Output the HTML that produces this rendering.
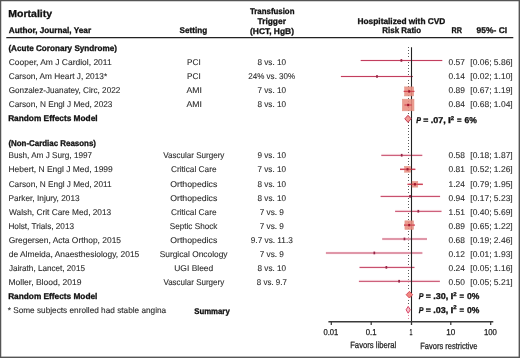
<!DOCTYPE html>
<html><head><meta charset="utf-8"><style>
html,body{margin:0;padding:0;background:#fff;}
svg{display:block;will-change:transform;}
text{font-family:"Liberation Sans",sans-serif;text-rendering:geometricPrecision;}
text.r{fill:#2b2b2b;stroke:#2b2b2b;stroke-width:0.1;}
text.a{fill:#1e1e1e;stroke:#1e1e1e;stroke-width:0.25;}
text.b{font-weight:bold;fill:#111;stroke:#111;stroke-width:0.3;}
</style></head><body>
<svg width="520" height="358" viewBox="0 0 520 358">
<rect x="0" y="0" width="520" height="358" fill="#fff"/>
<rect x="0" y="0" width="1.25" height="358" fill="#555"/>
<rect x="0" y="0" width="520" height="1.25" fill="#555"/>
<rect x="518.6" y="0" width="1.4" height="358" fill="#555"/>
<rect x="0" y="356.6" width="520" height="1.4" fill="#555"/>
<line x1="6.3" y1="37.6" x2="513.3" y2="37.6" stroke="#222" stroke-width="1.3"/>
<path d="M408 47h1v1h-1zM408 50h1v1h-1zM408 53h1v1h-1zM408 56h1v1h-1zM408 59h1v1h-1zM408 62h1v1h-1zM408 65h1v1h-1zM408 68h1v1h-1zM408 71h1v1h-1zM408 74h1v1h-1zM408 77h1v1h-1zM408 80h1v1h-1zM408 83h1v1h-1zM408 86h1v1h-1zM408 89h1v1h-1zM408 92h1v1h-1zM408 95h1v1h-1zM408 98h1v1h-1zM408 101h1v1h-1zM408 104h1v1h-1zM408 107h1v1h-1zM408 110h1v1h-1zM408 113h1v1h-1zM408 116h1v1h-1zM408 119h1v1h-1zM408 122h1v1h-1zM408 125h1v1h-1zM408 128h1v1h-1zM408 131h1v1h-1zM408 134h1v1h-1zM408 137h1v1h-1zM408 140h1v1h-1zM408 143h1v1h-1zM408 146h1v1h-1zM408 149h1v1h-1zM408 152h1v1h-1zM408 155h1v1h-1zM408 158h1v1h-1zM408 161h1v1h-1zM408 164h1v1h-1zM408 168h1v1h-1zM408 171h1v1h-1zM408 174h1v1h-1zM408 177h1v1h-1zM408 180h1v1h-1zM408 183h1v1h-1zM408 186h1v1h-1zM408 189h1v1h-1zM408 192h1v1h-1zM408 195h1v1h-1zM408 198h1v1h-1zM408 201h1v1h-1zM408 204h1v1h-1zM408 207h1v1h-1zM408 210h1v1h-1zM408 213h1v1h-1zM408 216h1v1h-1zM408 219h1v1h-1zM408 222h1v1h-1zM408 225h1v1h-1zM408 228h1v1h-1zM408 231h1v1h-1zM408 234h1v1h-1zM408 237h1v1h-1zM408 240h1v1h-1zM408 243h1v1h-1zM408 246h1v1h-1zM408 249h1v1h-1zM408 252h1v1h-1zM408 255h1v1h-1zM408 258h1v1h-1zM408 261h1v1h-1zM408 264h1v1h-1zM408 267h1v1h-1zM408 270h1v1h-1zM408 273h1v1h-1zM408 276h1v1h-1zM408 279h1v1h-1zM408 282h1v1h-1zM408 285h1v1h-1zM408 288h1v1h-1zM408 300h1v1h-1zM408 303h1v1h-1z" fill="#5a5a5a"/>
<path d="M408 315h1v1h-1zM408 318h1v1h-1z" fill="#e0849a"/>
<line x1="360.7" y1="60.5" x2="442.3" y2="60.5" stroke="#fdf0f3" stroke-width="3"/>
<line x1="340.9" y1="76.5" x2="412.9" y2="76.5" stroke="#fdf0f3" stroke-width="3"/>
<line x1="403.8" y1="91.4" x2="414.3" y2="91.4" stroke="#fdf0f3" stroke-width="3"/>
<line x1="404.5" y1="105.0" x2="411.9" y2="105.0" stroke="#fdf0f3" stroke-width="3"/>
<line x1="381.3" y1="155.3" x2="422.3" y2="155.3" stroke="#fdf0f3" stroke-width="3"/>
<line x1="400.0" y1="169.3" x2="415.3" y2="169.3" stroke="#fdf0f3" stroke-width="3"/>
<line x1="407.6" y1="184.3" x2="422.8" y2="184.3" stroke="#fdf0f3" stroke-width="3"/>
<line x1="380.6" y1="196.4" x2="440.1" y2="196.4" stroke="#fdf0f3" stroke-width="3"/>
<line x1="395.1" y1="211.3" x2="441.5" y2="211.3" stroke="#fdf0f3" stroke-width="3"/>
<line x1="404.0" y1="225.1" x2="414.7" y2="225.1" stroke="#fdf0f3" stroke-width="3"/>
<line x1="382.2" y1="239.0" x2="427.0" y2="239.0" stroke="#fdf0f3" stroke-width="3"/>
<line x1="325.9" y1="253.0" x2="422.4" y2="253.0" stroke="#fdf0f3" stroke-width="3"/>
<line x1="359.5" y1="267.4" x2="414.5" y2="267.4" stroke="#fdf0f3" stroke-width="3"/>
<line x1="358.9" y1="281.3" x2="439.9" y2="281.3" stroke="#fdf0f3" stroke-width="3"/>
<line x1="360.7" y1="60.5" x2="442.3" y2="60.5" stroke="#c23e5e" stroke-width="1"/>
<line x1="340.9" y1="76.5" x2="412.9" y2="76.5" stroke="#c23e5e" stroke-width="1"/>
<line x1="403.8" y1="91.4" x2="414.3" y2="91.4" stroke="#c23e5e" stroke-width="1"/>
<line x1="404.5" y1="105.0" x2="411.9" y2="105.0" stroke="#c23e5e" stroke-width="1"/>
<line x1="381.3" y1="155.3" x2="422.3" y2="155.3" stroke="#c23e5e" stroke-width="1"/>
<line x1="400.0" y1="169.3" x2="415.3" y2="169.3" stroke="#c23e5e" stroke-width="1"/>
<line x1="407.6" y1="184.3" x2="422.8" y2="184.3" stroke="#c23e5e" stroke-width="1"/>
<line x1="380.6" y1="196.4" x2="440.1" y2="196.4" stroke="#c23e5e" stroke-width="1"/>
<line x1="395.1" y1="211.3" x2="441.5" y2="211.3" stroke="#c23e5e" stroke-width="1"/>
<line x1="404.0" y1="225.1" x2="414.7" y2="225.1" stroke="#c23e5e" stroke-width="1"/>
<line x1="382.2" y1="239.0" x2="427.0" y2="239.0" stroke="#c23e5e" stroke-width="1"/>
<line x1="325.9" y1="253.0" x2="422.4" y2="253.0" stroke="#c23e5e" stroke-width="1"/>
<line x1="359.5" y1="267.4" x2="414.5" y2="267.4" stroke="#c23e5e" stroke-width="1"/>
<line x1="358.9" y1="281.3" x2="439.9" y2="281.3" stroke="#c23e5e" stroke-width="1"/>
<line x1="411.5" y1="47.2" x2="411.5" y2="325" stroke="#222" stroke-width="1.1"/>
<rect x="400.53" y="59.1" width="1.7" height="2.7" fill="#962646"/>
<rect x="376.15" y="75.1" width="1.7" height="2.7" fill="#962646"/>
<rect x="404.68" y="86.90" width="9" height="9" fill="#ea8e80" stroke="#dc8878" stroke-width="0.6" opacity="0.88"/>
<line x1="403.8" y1="91.4" x2="414.3" y2="91.4" stroke="#d03848" stroke-width="1.2" opacity="0.75"/>
<rect x="408.18" y="90.2" width="2" height="2.4" fill="#a01830"/>
<rect x="402.37" y="99.20" width="11.6" height="11.6" fill="#ea8e80" stroke="#dc8878" stroke-width="0.6" opacity="0.88"/>
<line x1="404.5" y1="105.0" x2="411.9" y2="105.0" stroke="#d03848" stroke-width="1.2" opacity="0.75"/>
<rect x="407.17" y="103.8" width="2" height="2.4" fill="#a01830"/>
<rect x="400.84" y="153.9" width="1.7" height="2.7" fill="#962646"/>
<rect x="404.64" y="166.40" width="5.8" height="5.8" fill="#ea8e80" stroke="#dc8878" stroke-width="0.6" opacity="0.88"/>
<line x1="400.0" y1="169.3" x2="415.3" y2="169.3" stroke="#d03848" stroke-width="1.2" opacity="0.75"/>
<rect x="406.54" y="168.10000000000002" width="2" height="2.4" fill="#a01830"/>
<rect x="412.14" y="181.50" width="5.6" height="5.6" fill="#ea8e80" stroke="#dc8878" stroke-width="0.6" opacity="0.88"/>
<line x1="407.6" y1="184.3" x2="422.8" y2="184.3" stroke="#d03848" stroke-width="1.2" opacity="0.75"/>
<rect x="413.94" y="183.10000000000002" width="2" height="2.4" fill="#a01830"/>
<rect x="409.23" y="195.0" width="1.7" height="2.7" fill="#962646"/>
<rect x="417.46" y="209.9" width="1.7" height="2.7" fill="#962646"/>
<rect x="404.93" y="220.85" width="8.5" height="8.5" fill="#ea8e80" stroke="#dc8878" stroke-width="0.6" opacity="0.88"/>
<line x1="404.0" y1="225.1" x2="414.7" y2="225.1" stroke="#d03848" stroke-width="1.2" opacity="0.75"/>
<rect x="408.18" y="223.9" width="2" height="2.4" fill="#a01830"/>
<rect x="403.60" y="237.6" width="1.7" height="2.7" fill="#962646"/>
<rect x="373.47" y="251.6" width="1.7" height="2.7" fill="#962646"/>
<rect x="385.51" y="266.0" width="1.7" height="2.7" fill="#962646"/>
<rect x="398.26" y="279.90000000000003" width="1.7" height="2.7" fill="#962646"/>
<polygon points="404.8,118.8 408.0,115.3 411.2,118.8 408.0,122.3" fill="#f09a94" stroke="#c83c54" stroke-width="1"/>
<polygon points="406.2,294.7 409.4,291.4 412.59999999999997,294.7 409.4,298.0" fill="#f08880" stroke="#d84a5c" stroke-width="1"/>
<polygon points="406.09999999999997,309.8 408.2,306.40000000000003 410.3,309.8 408.2,313.2" fill="#f8c4cc" stroke="#d8486a" stroke-width="1"/>
<line x1="328.4" y1="321.8" x2="493.3" y2="321.8" stroke="#3a3a3a" stroke-width="1.6"/>
<line x1="331.3" y1="321.8" x2="331.3" y2="325" stroke="#333" stroke-width="1.2"/>
<line x1="371.2" y1="321.8" x2="371.2" y2="325" stroke="#333" stroke-width="1.2"/>
<line x1="411.5" y1="321.8" x2="411.5" y2="325" stroke="#333" stroke-width="1.2"/>
<line x1="450.8" y1="321.8" x2="450.8" y2="325" stroke="#333" stroke-width="1.2"/>
<line x1="490.7" y1="321.8" x2="490.7" y2="325" stroke="#333" stroke-width="1.2"/>
<text class="b" x="8.30" y="17.20" font-size="10.1" textLength="43.76" lengthAdjust="spacingAndGlyphs">Mortality</text>
<text class="b" x="8.80" y="33.20" font-size="8.3" textLength="82.32" lengthAdjust="spacingAndGlyphs">Author, Journal, Year</text>
<text class="b" x="179.57" y="33.40" font-size="8.3" textLength="27.58" lengthAdjust="spacingAndGlyphs">Setting</text>
<text class="b" x="249.91" y="13.70" font-size="8.3" textLength="44.57" lengthAdjust="spacingAndGlyphs">Transfusion</text>
<text class="b" x="257.51" y="23.50" font-size="8.3" textLength="28.42" lengthAdjust="spacingAndGlyphs">Trigger</text>
<text class="b" x="249.99" y="33.50" font-size="8.3" textLength="44.02" lengthAdjust="spacingAndGlyphs">(HCT, HgB)</text>
<text class="b" x="357.54" y="23.60" font-size="8.3" textLength="87.81" lengthAdjust="spacingAndGlyphs">Hospitalized with CVD</text>
<text class="b" x="382.37" y="33.10" font-size="8.3" textLength="38.74" lengthAdjust="spacingAndGlyphs">Risk Ratio</text>
<text class="b" x="451.52" y="33.10" font-size="8.3" textLength="10.43" lengthAdjust="spacingAndGlyphs">RR</text>
<text class="b" x="476.61" y="33.10" font-size="8.3" textLength="30.46" lengthAdjust="spacingAndGlyphs">95%- CI</text>
<text class="b" x="8.39" y="50.90" font-size="8.3" textLength="108.51" lengthAdjust="spacingAndGlyphs">(Acute Coronary Syndrome)</text>
<text class="r" x="8.68" y="65.00" font-size="8.4" textLength="102.93" lengthAdjust="spacingAndGlyphs">Cooper, Am J Cardiol, 2011</text>
<text class="r" x="186.97" y="65.00" font-size="8.4" textLength="13.74" lengthAdjust="spacingAndGlyphs">PCI</text>
<text class="r" x="257.44" y="65.00" font-size="8.4" textLength="28.68" lengthAdjust="spacingAndGlyphs">8 vs. 10</text>
<text class="r" x="448.47" y="65.00" font-size="8.4" textLength="16.35" lengthAdjust="spacingAndGlyphs">0.57</text>
<text class="r" x="470.30" y="65.00" font-size="8.4" textLength="42.41" lengthAdjust="spacingAndGlyphs">[0.06; 5.86]</text>
<text class="r" x="8.68" y="79.00" font-size="8.4" textLength="98.45" lengthAdjust="spacingAndGlyphs">Carson, Am Heart J, 2013*</text>
<text class="r" x="186.97" y="79.00" font-size="8.4" textLength="13.74" lengthAdjust="spacingAndGlyphs">PCI</text>
<text class="r" x="248.35" y="79.00" font-size="8.4" textLength="46.79" lengthAdjust="spacingAndGlyphs">24% vs. 30%</text>
<text class="r" x="448.47" y="79.00" font-size="8.4" textLength="16.35" lengthAdjust="spacingAndGlyphs">0.14</text>
<text class="r" x="470.30" y="79.00" font-size="8.4" textLength="42.41" lengthAdjust="spacingAndGlyphs">[0.02; 1.10]</text>
<text class="r" x="8.69" y="93.00" font-size="8.4" textLength="111.62" lengthAdjust="spacingAndGlyphs">Gonzalez-Juanatey, Circ, 2022</text>
<text class="r" x="186.48" y="93.00" font-size="8.4" textLength="15.42" lengthAdjust="spacingAndGlyphs">AMI</text>
<text class="r" x="257.38" y="93.00" font-size="8.4" textLength="28.74" lengthAdjust="spacingAndGlyphs">7 vs. 10</text>
<text class="r" x="448.47" y="93.00" font-size="8.4" textLength="16.35" lengthAdjust="spacingAndGlyphs">0.89</text>
<text class="r" x="470.30" y="93.00" font-size="8.4" textLength="42.41" lengthAdjust="spacingAndGlyphs">[0.67; 1.19]</text>
<text class="r" x="8.68" y="107.00" font-size="8.4" textLength="103.78" lengthAdjust="spacingAndGlyphs">Carson, N Engl J Med, 2023</text>
<text class="r" x="186.48" y="107.00" font-size="8.4" textLength="15.42" lengthAdjust="spacingAndGlyphs">AMI</text>
<text class="r" x="257.44" y="107.00" font-size="8.4" textLength="28.68" lengthAdjust="spacingAndGlyphs">8 vs. 10</text>
<text class="r" x="448.47" y="107.00" font-size="8.4" textLength="16.35" lengthAdjust="spacingAndGlyphs">0.84</text>
<text class="r" x="470.30" y="107.00" font-size="8.4" textLength="42.41" lengthAdjust="spacingAndGlyphs">[0.68; 1.04]</text>
<text class="b" x="8.14" y="121.00" font-size="8.3" textLength="89.44" lengthAdjust="spacingAndGlyphs">Random Effects Model</text>
<text class="b" x="8.41" y="146.40" font-size="8.3" textLength="87.59" lengthAdjust="spacingAndGlyphs">(Non-Cardiac Reasons)</text>
<text class="r" x="8.43" y="158.30" font-size="8.4" textLength="83.68" lengthAdjust="spacingAndGlyphs">Bush, Am J Surg, 1997</text>
<text class="r" x="163.16" y="158.30" font-size="8.4" textLength="61.25" lengthAdjust="spacingAndGlyphs">Vascular Surgery</text>
<text class="r" x="257.52" y="158.30" font-size="8.4" textLength="28.50" lengthAdjust="spacingAndGlyphs">9 vs. 10</text>
<text class="r" x="448.47" y="158.30" font-size="8.4" textLength="16.35" lengthAdjust="spacingAndGlyphs">0.58</text>
<text class="r" x="470.30" y="158.30" font-size="8.4" textLength="42.41" lengthAdjust="spacingAndGlyphs">[0.18; 1.87]</text>
<text class="r" x="8.41" y="172.42" font-size="8.4" textLength="104.39" lengthAdjust="spacingAndGlyphs">Hebert, N Engl J Med, 1999</text>
<text class="r" x="171.03" y="172.42" font-size="8.4" textLength="45.49" lengthAdjust="spacingAndGlyphs">Critical Care</text>
<text class="r" x="257.48" y="172.42" font-size="8.4" textLength="28.54" lengthAdjust="spacingAndGlyphs">7 vs. 10</text>
<text class="r" x="448.47" y="172.42" font-size="8.4" textLength="16.35" lengthAdjust="spacingAndGlyphs">0.81</text>
<text class="r" x="470.30" y="172.42" font-size="8.4" textLength="42.41" lengthAdjust="spacingAndGlyphs">[0.52; 1.26]</text>
<text class="r" x="8.68" y="186.54" font-size="8.4" textLength="102.92" lengthAdjust="spacingAndGlyphs">Carson, N Engl J Med, 2011</text>
<text class="r" x="170.19" y="186.54" font-size="8.4" textLength="47.13" lengthAdjust="spacingAndGlyphs">Orthopedics</text>
<text class="r" x="257.55" y="186.54" font-size="8.4" textLength="28.47" lengthAdjust="spacingAndGlyphs">8 vs. 10</text>
<text class="r" x="448.47" y="186.54" font-size="8.4" textLength="16.35" lengthAdjust="spacingAndGlyphs">1.24</text>
<text class="r" x="470.30" y="186.54" font-size="8.4" textLength="42.41" lengthAdjust="spacingAndGlyphs">[0.79; 1.95]</text>
<text class="r" x="8.43" y="200.66" font-size="8.4" textLength="71.23" lengthAdjust="spacingAndGlyphs">Parker, Injury, 2013</text>
<text class="r" x="170.19" y="200.66" font-size="8.4" textLength="47.13" lengthAdjust="spacingAndGlyphs">Orthopedics</text>
<text class="r" x="257.55" y="200.66" font-size="8.4" textLength="28.47" lengthAdjust="spacingAndGlyphs">8 vs. 10</text>
<text class="r" x="448.47" y="200.66" font-size="8.4" textLength="16.35" lengthAdjust="spacingAndGlyphs">0.94</text>
<text class="r" x="470.30" y="200.66" font-size="8.4" textLength="42.41" lengthAdjust="spacingAndGlyphs">[0.17; 5.23]</text>
<text class="r" x="9.06" y="214.78" font-size="8.4" textLength="102.20" lengthAdjust="spacingAndGlyphs">Walsh, Crit Care Med, 2013</text>
<text class="r" x="171.03" y="214.78" font-size="8.4" textLength="45.49" lengthAdjust="spacingAndGlyphs">Critical Care</text>
<text class="r" x="259.63" y="214.78" font-size="8.4" textLength="24.31" lengthAdjust="spacingAndGlyphs">7 vs. 9</text>
<text class="r" x="448.47" y="214.78" font-size="8.4" textLength="16.35" lengthAdjust="spacingAndGlyphs">1.51</text>
<text class="r" x="470.30" y="214.78" font-size="8.4" textLength="42.41" lengthAdjust="spacingAndGlyphs">[0.40; 5.69]</text>
<text class="r" x="8.43" y="228.90" font-size="8.4" textLength="65.63" lengthAdjust="spacingAndGlyphs">Holst, Trials, 2013</text>
<text class="r" x="169.78" y="228.90" font-size="8.4" textLength="47.66" lengthAdjust="spacingAndGlyphs">Septic Shock</text>
<text class="r" x="259.68" y="228.90" font-size="8.4" textLength="24.21" lengthAdjust="spacingAndGlyphs">7 vs. 9</text>
<text class="r" x="448.47" y="228.90" font-size="8.4" textLength="16.35" lengthAdjust="spacingAndGlyphs">0.89</text>
<text class="r" x="470.30" y="228.90" font-size="8.4" textLength="42.41" lengthAdjust="spacingAndGlyphs">[0.65; 1.22]</text>
<text class="r" x="8.68" y="243.02" font-size="8.4" textLength="112.37" lengthAdjust="spacingAndGlyphs">Gregersen, Acta Orthop, 2015</text>
<text class="r" x="170.24" y="243.02" font-size="8.4" textLength="47.03" lengthAdjust="spacingAndGlyphs">Orthopedics</text>
<text class="r" x="250.77" y="243.02" font-size="8.4" textLength="42.04" lengthAdjust="spacingAndGlyphs">9.7 vs. 11.3</text>
<text class="r" x="448.47" y="243.02" font-size="8.4" textLength="16.35" lengthAdjust="spacingAndGlyphs">0.68</text>
<text class="r" x="470.30" y="243.02" font-size="8.4" textLength="42.41" lengthAdjust="spacingAndGlyphs">[0.19; 2.46]</text>
<text class="r" x="8.75" y="257.14" font-size="8.4" textLength="130.50" lengthAdjust="spacingAndGlyphs">de Almeida, Anaesthesiology, 2015</text>
<text class="r" x="159.67" y="257.14" font-size="8.4" textLength="67.90" lengthAdjust="spacingAndGlyphs">Surgical Oncology</text>
<text class="r" x="259.68" y="257.14" font-size="8.4" textLength="24.21" lengthAdjust="spacingAndGlyphs">7 vs. 9</text>
<text class="r" x="448.47" y="257.14" font-size="8.4" textLength="16.35" lengthAdjust="spacingAndGlyphs">0.12</text>
<text class="r" x="470.30" y="257.14" font-size="8.4" textLength="42.41" lengthAdjust="spacingAndGlyphs">[0.01; 1.93]</text>
<text class="r" x="8.97" y="271.26" font-size="8.4" textLength="75.97" lengthAdjust="spacingAndGlyphs">Jairath, Lancet, 2015</text>
<text class="r" x="174.25" y="271.26" font-size="8.4" textLength="39.00" lengthAdjust="spacingAndGlyphs">UGI Bleed</text>
<text class="r" x="257.50" y="271.26" font-size="8.4" textLength="28.57" lengthAdjust="spacingAndGlyphs">8 vs. 10</text>
<text class="r" x="448.47" y="271.26" font-size="8.4" textLength="16.35" lengthAdjust="spacingAndGlyphs">0.24</text>
<text class="r" x="470.30" y="271.26" font-size="8.4" textLength="42.41" lengthAdjust="spacingAndGlyphs">[0.05; 1.16]</text>
<text class="r" x="8.41" y="285.38" font-size="8.4" textLength="73.00" lengthAdjust="spacingAndGlyphs">Moller, Blood, 2019</text>
<text class="r" x="163.42" y="285.38" font-size="8.4" textLength="60.75" lengthAdjust="spacingAndGlyphs">Vascular Surgery</text>
<text class="r" x="256.80" y="285.38" font-size="8.4" textLength="30.05" lengthAdjust="spacingAndGlyphs">8 vs. 9.7</text>
<text class="r" x="448.47" y="285.38" font-size="8.4" textLength="16.35" lengthAdjust="spacingAndGlyphs">0.50</text>
<text class="r" x="470.30" y="285.38" font-size="8.4" textLength="42.41" lengthAdjust="spacingAndGlyphs">[0.05; 5.21]</text>
<text class="b" x="8.15" y="298.70" font-size="8.3" textLength="89.24" lengthAdjust="spacingAndGlyphs">Random Effects Model</text>
<text class="r" x="7.67" y="313.40" font-size="8.3" textLength="158.53" lengthAdjust="spacingAndGlyphs">* Some subjects enrolled had stable angina</text>
<text class="b" x="194.18" y="313.50" font-size="8.3" textLength="35.57" lengthAdjust="spacingAndGlyphs">Summary</text>
<text class="a" x="323.50" y="335.00" font-size="8.6" textLength="14.87" lengthAdjust="spacingAndGlyphs">0.01</text>
<text class="a" x="365.70" y="335.00" font-size="8.6" textLength="10.78" lengthAdjust="spacingAndGlyphs">0.1</text>
<text class="a" x="409.39" y="335.00" font-size="8.6" textLength="2.97" lengthAdjust="spacingAndGlyphs">1</text>
<text class="a" x="446.18" y="335.00" font-size="8.6" textLength="9.04" lengthAdjust="spacingAndGlyphs">10</text>
<text class="a" x="483.91" y="335.00" font-size="8.6" textLength="13.00" lengthAdjust="spacingAndGlyphs">100</text>
<text class="a" x="350.17" y="348.10" font-size="9.0" textLength="46.14" lengthAdjust="spacingAndGlyphs">Favors liberal</text>
<text class="a" x="420.28" y="348.60" font-size="9.0" textLength="57.15" lengthAdjust="spacingAndGlyphs">Favors restrictive</text>
<text class="b" x="416.18" y="123.10" font-size="8.5" font-style="italic" textLength="4.71" lengthAdjust="spacingAndGlyphs">P</text>
<text class="b" x="423.34" y="123.10" font-size="8.5" textLength="5.12" lengthAdjust="spacingAndGlyphs">=</text>
<text class="b" x="430.69" y="123.10" font-size="8.5" textLength="15.01" lengthAdjust="spacingAndGlyphs">.07,</text>
<text class="b" x="448.00" y="123.10" font-size="8.5" textLength="2.89" lengthAdjust="spacingAndGlyphs">I</text>
<text class="b" x="450.69" y="119.50" font-size="5.6" textLength="3.35" lengthAdjust="spacingAndGlyphs">2</text>
<text class="b" x="457.08" y="123.10" font-size="8.5" textLength="4.54" lengthAdjust="spacingAndGlyphs">=</text>
<text class="b" x="464.59" y="123.10" font-size="8.5" textLength="12.34" lengthAdjust="spacingAndGlyphs">6%</text>
<text class="b" x="418.68" y="299.20" font-size="8.5" font-style="italic" textLength="4.71" lengthAdjust="spacingAndGlyphs">P</text>
<text class="b" x="425.84" y="299.20" font-size="8.5" textLength="5.12" lengthAdjust="spacingAndGlyphs">=</text>
<text class="b" x="433.19" y="299.20" font-size="8.5" textLength="15.01" lengthAdjust="spacingAndGlyphs">.30,</text>
<text class="b" x="450.50" y="299.20" font-size="8.5" textLength="2.89" lengthAdjust="spacingAndGlyphs">I</text>
<text class="b" x="453.19" y="295.60" font-size="5.6" textLength="3.35" lengthAdjust="spacingAndGlyphs">2</text>
<text class="b" x="459.58" y="299.20" font-size="8.5" textLength="4.54" lengthAdjust="spacingAndGlyphs">=</text>
<text class="b" x="467.06" y="299.20" font-size="8.5" textLength="12.36" lengthAdjust="spacingAndGlyphs">0%</text>
<text class="b" x="418.68" y="312.70" font-size="8.5" font-style="italic" textLength="4.71" lengthAdjust="spacingAndGlyphs">P</text>
<text class="b" x="425.84" y="312.70" font-size="8.5" textLength="5.12" lengthAdjust="spacingAndGlyphs">=</text>
<text class="b" x="433.19" y="312.70" font-size="8.5" textLength="15.01" lengthAdjust="spacingAndGlyphs">.03,</text>
<text class="b" x="450.50" y="312.70" font-size="8.5" textLength="2.89" lengthAdjust="spacingAndGlyphs">I</text>
<text class="b" x="453.19" y="309.10" font-size="5.6" textLength="3.35" lengthAdjust="spacingAndGlyphs">2</text>
<text class="b" x="459.58" y="312.70" font-size="8.5" textLength="4.54" lengthAdjust="spacingAndGlyphs">=</text>
<text class="b" x="467.06" y="312.70" font-size="8.5" textLength="12.36" lengthAdjust="spacingAndGlyphs">0%</text>
</svg>
</body></html>
